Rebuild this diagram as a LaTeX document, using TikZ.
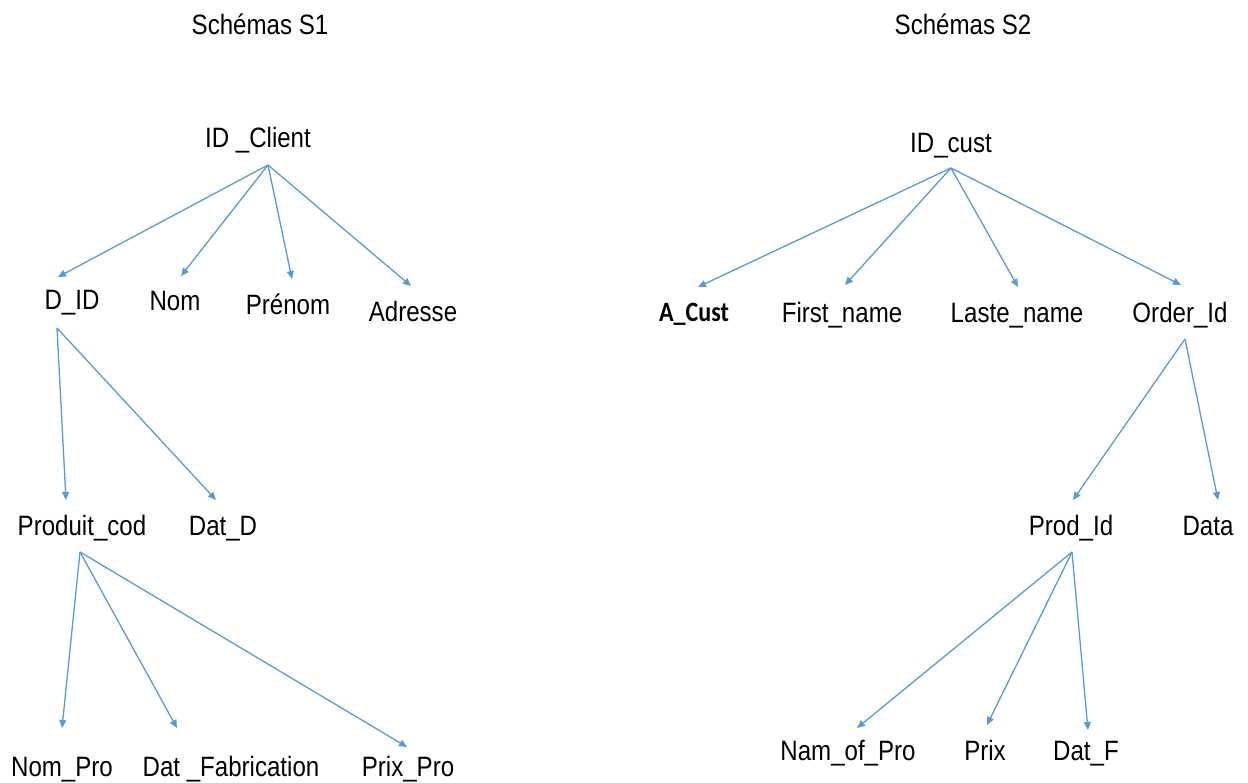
\documentclass[tikz,border=0pt]{standalone}
\usepackage{fontspec}
\setmainfont[FakeStretch=0.86]{Liberation Sans}
\newfontfamily\calibrifont[FakeStretch=0.86]{Carlito}
\usetikzlibrary{arrows.meta}
\definecolor{linkblue}{RGB}{91,155,213}
\tikzset{
  lbl/.style={anchor=base, inner sep=0pt, font=\fontsize{28}{30}\selectfont, text=black},
  boldlbl/.style={lbl, font=\fontsize{28}{30}\selectfont\calibrifont\bfseries},
  link/.style={draw=linkblue, line width=1.3pt, -{Triangle[length=8pt,width=7pt]}}
}
\begin{document}
\begin{tikzpicture}[x=1pt,y=-1pt]
\useasboundingbox (0,0) rectangle (1248,783);
\fill[white] (0,0) rectangle (1248,783);

% ---- Schema S1 ----
\node[lbl] (t1) at (260,35) {Schémas S1};
\node[lbl] (idclient) at (258,148) {ID \_Client};
\node[lbl] (did) at (72,310) {D\_ID};
\node[lbl] (nom) at (175,311) {Nom};
\node[lbl] (prenom) at (288,315) {Prénom};
\node[lbl] (adresse) at (413,322) {Adresse};
\node[lbl] (produit) at (82,535) {Produit\_cod};
\node[lbl] (datd) at (223,535) {Dat\_D};
\node[lbl] (nompro) at (62,776) {Nom\_Pro};
\node[lbl] (datfab) at (231,776) {Dat \_Fabrication};
\node[lbl] (prixpro) at (408,776) {Prix\_Pro};

\draw[link] ([shift={(10,17)}]idclient.base) -- ([shift={(-14,-33)}]did.base);
\draw[link] ([shift={(10,17)}]idclient.base) -- ([shift={(6,-35)}]nom.base);
\draw[link] ([shift={(10,17)}]idclient.base) -- ([shift={(4,-36)}]prenom.base);
\draw[link] ([shift={(10,17)}]idclient.base) -- ([shift={(-2,-36)}]adresse.base);

\draw[link] ([shift={(-15,18)}]did.base) -- ([shift={(-16,-35)}]produit.base);
\draw[link] ([shift={(-15,18)}]did.base) -- ([shift={(-7,-35)}]datd.base);

\draw[link] ([shift={(-2,17)}]produit.base) -- ([shift={(0,-48)}]nompro.base);
\draw[link] ([shift={(-2,17)}]produit.base) -- ([shift={(-54,-48)}]datfab.base);
\draw[link] ([shift={(-2,17)}]produit.base) -- ([shift={(-1,-29)}]prixpro.base);

% ---- Schema S2 ----
\node[lbl] (t2) at (963,35) {Schémas S2};
\node[lbl] (idcust) at (951,153) {ID\_cust};
\node[boldlbl] (acust) at (694,322) {A\_Cust};
\node[lbl] (first) at (842,323) {First\_name};
\node[lbl] (laste) at (1017,323) {Laste\_name};
\node[lbl] (order) at (1180,323) {Order\_Id};
\node[lbl] (prod) at (1071,535) {Prod\_Id};
\node[lbl] (data) at (1208,535) {Data};
\node[lbl] (namof) at (848,760) {Nam\_of\_Pro};
\node[lbl] (prix) at (985,760) {Prix};
\node[lbl] (datf) at (1086,760) {Dat\_F};

\draw[link] ([shift={(0,15)}]idcust.base) -- ([shift={(4,-35)}]acust.base);
\draw[link] ([shift={(0,15)}]idcust.base) -- ([shift={(3,-38)}]first.base);
\draw[link] ([shift={(0,15)}]idcust.base) -- ([shift={(1,-36)}]laste.base);
\draw[link] ([shift={(0,15)}]idcust.base) -- ([shift={(1,-38)}]order.base);

\draw[link] ([shift={(5,16)}]order.base) -- ([shift={(2,-35)}]prod.base);
\draw[link] ([shift={(5,16)}]order.base) -- ([shift={(10,-35)}]data.base);

\draw[link] ([shift={(1,17)}]prod.base) -- ([shift={(9,-32)}]namof.base);
\draw[link] ([shift={(1,17)}]prod.base) -- ([shift={(2,-35)}]prix.base);
\draw[link] ([shift={(1,17)}]prod.base) -- ([shift={(2,-30)}]datf.base);
\end{tikzpicture}
\end{document}
